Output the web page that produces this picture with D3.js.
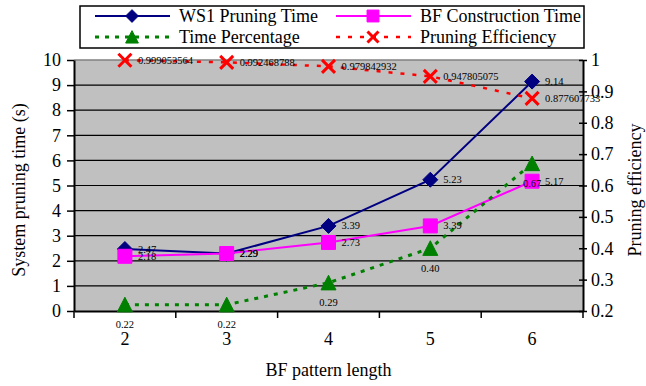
<!DOCTYPE html>
<html>
<head>
<meta charset="utf-8">
<script src="https://cdn.jsdelivr.net/npm/d3@7"></script>
<style>
  body { margin: 0; background: #fff; }
  text { font-family: "Liberation Serif", "Times New Roman", Times, serif; }
</style>
</head>
<body>
<svg id="chart_svg" width="646" height="386"></svg>
<script>
// data
var patternLength = ["2", "3", "4", "5", "6"];
var ws1Time = [2.47, 2.29, 3.39, 5.23, 9.14];
var bfTime = [2.18, 2.29, 2.73, 3.39, 5.17];
var timePct = [0.22, 0.22, 0.29, 0.40, 0.67];
var pruneEff = [0.999053564, 0.992468788, 0.979842932, 0.947805075, 0.877607733];
var leftTicks = [0, 1, 2, 3, 4, 5, 6, 7, 8, 9, 10];
var rightTicks = [0.2, 0.3, 0.4, 0.5, 0.6, 0.7, 0.8, 0.9, 1];

var plot = { left: 74, right: 583, top: 60, bottom: 311 };

var base = d3.select('#chart_svg');

var x = d3.scaleBand().domain(patternLength).range([plot.left, plot.right]);
var yL = d3.scaleLinear().domain([0, 10]).range([plot.bottom, plot.top]);
var yR = d3.scaleLinear().domain([0.2, 1]).range([plot.bottom, plot.top]);
var cx = function(d, i) { return x(patternLength[i]) + x.bandwidth() / 2; };

// plot background
base.append("rect")
    .attr("x", plot.left).attr("y", plot.top)
    .attr("width", plot.right - plot.left).attr("height", plot.bottom - plot.top)
    .attr("fill", "#c0c0c0");

// gridlines
base.append("g").selectAll("line")
    .data(leftTicks.slice(1, -1))
    .enter().append("line")
    .attr("x1", plot.left).attr("x2", plot.right)
    .attr("y1", function(d) { return yL(d); })
    .attr("y2", function(d) { return yL(d); })
    .attr("stroke", "#000").attr("stroke-width", 1.2);
base.append("line")
    .attr("x1", plot.left).attr("x2", plot.right)
    .attr("y1", plot.top).attr("y2", plot.top)
    .attr("stroke", "#808080").attr("stroke-width", 1.5);

// axes
var leftAxis = base.append("g")
    .attr("transform", "translate(" + plot.left + ",0)")
    .call(d3.axisLeft(yL).tickValues(leftTicks).tickSize(7).tickPadding(6).tickSizeOuter(0));
var rightAxis = base.append("g")
    .attr("transform", "translate(" + plot.right + ",0)")
    .call(d3.axisRight(yR).tickValues(rightTicks).tickSize(4).tickPadding(4).tickSizeOuter(0)
        .tickFormat(function(d) { return d === 1 ? "1" : d.toFixed(1); }));
rightAxis.selectAll(".tick line").attr("x1", -4);
var bottomAxis = base.append("g")
    .attr("transform", "translate(0," + plot.bottom + ")")
    .call(d3.axisBottom(x).tickSize(0).tickPadding(21).tickSizeOuter(0));
bottomAxis.selectAll("g.bound")
    .data(patternLength.concat(["end"]))
    .enter().append("line")
    .attr("x1", function(d) { return d === "end" ? plot.right : x(d); })
    .attr("x2", function(d) { return d === "end" ? plot.right : x(d); })
    .attr("y1", 0).attr("y2", 7)
    .attr("stroke", "#000").attr("stroke-width", 1.5);

[leftAxis, rightAxis, bottomAxis].forEach(function(a) {
    a.attr("font-family", null);
    a.select(".domain").attr("stroke", "#000").attr("stroke-width", 2);
    a.selectAll(".tick line").attr("stroke", "#000").attr("stroke-width", 1.5);
    a.selectAll("text").attr("font-size", "18px").attr("fill", "#000");
});

// axis titles
base.append("text")
    .text("System pruning time (s)")
    .attr("font-size", "18px")
    .attr("text-anchor", "middle")
    .attr("dominant-baseline", "central")
    .attr("transform", "translate(19,190) rotate(-90)");
base.append("text")
    .text("Pruning efficiency")
    .attr("font-size", "18px")
    .attr("text-anchor", "middle")
    .attr("dominant-baseline", "central")
    .attr("transform", "translate(635,190) rotate(-90)");
base.append("text")
    .text("BF pattern length")
    .attr("font-size", "18px")
    .attr("text-anchor", "middle")
    .attr("dominant-baseline", "central")
    .attr("x", (plot.left + plot.right) / 2)
    .attr("y", 370);

// marker shapes
function markerPath(shape, s) {
    if (shape === "diamond") return "M0," + (-s) + "L" + s + ",0L0," + s + "L" + (-s) + ",0Z";
    if (shape === "square") return "M" + (-s) + "," + (-s) + "h" + (2 * s) + "v" + (2 * s) + "h" + (-2 * s) + "Z";
    if (shape === "triangle") return "M0," + (-s) + "L" + s + "," + (s * 0.95) + "L" + (-s) + "," + (s * 0.95) + "Z";
    return "M" + (-s) + "," + (-s) + "L" + s + "," + s + "M" + s + "," + (-s) + "L" + (-s) + "," + s;
}

var series = [
    { name: "WS1 Pruning Time", values: ws1Time, y: yL, color: "#000080", width: 2, dash: null, shape: "diamond", size: 7.5 },
    { name: "BF Construction Time", values: bfTime, y: yL, color: "#ff00ff", width: 2, dash: null, shape: "square", size: 7 },
    { name: "Time Percentage", values: timePct, y: yR, color: "#008000", width: 3, dash: "4,6", shape: "triangle", size: 7.5 },
    { name: "Pruning Efficiency", values: pruneEff, y: yR, color: "#ff0000", width: 2.5, dash: "4,8", shape: "x", size: 6.5 }
];

var lineGroup = base.append("g").attr("id", "series-group");
series.forEach(function(s) {
    var line = d3.line()
        .x(function(d, i) { return cx(d, i); })
        .y(function(d) { return s.y(d); });
    lineGroup.append("path")
        .attr("d", line(s.values))
        .attr("fill", "none")
        .attr("stroke", s.color)
        .attr("stroke-width", s.width)
        .attr("stroke-dasharray", s.dash);
    lineGroup.selectAll(null)
        .data(s.values)
        .enter().append("path")
        .attr("d", markerPath(s.shape, s.size))
        .attr("transform", function(d, i) { return "translate(" + cx(d, i) + "," + s.y(d) + ")"; })
        .attr("fill", s.shape === "x" ? "none" : s.color)
        .attr("stroke", s.color)
        .attr("stroke-width", s.shape === "x" ? 3 : 1);
});

// data labels
var labelGroup = base.append("g").attr("id", "label-group")
    .attr("font-size", "10.5px");
function rightLabels(values, y, fmt) {
    labelGroup.selectAll(null)
        .data(values)
        .enter().append("text")
        .text(fmt)
        .attr("x", function(d, i) { return cx(d, i) + 13; })
        .attr("y", function(d) { return y(d); })
        .attr("dominant-baseline", "central");
}
rightLabels(ws1Time, yL, function(d) { return d.toFixed(2); });
rightLabels(bfTime, yL, function(d) { return d.toFixed(2); });
rightLabels(pruneEff, yR, function(d) { return String(d); });
labelGroup.selectAll(null)
    .data(timePct)
    .enter().append("text")
    .text(function(d) { return d.toFixed(2); })
    .attr("x", function(d, i) { return cx(d, i); })
    .attr("y", function(d) { return yR(d) + 20; })
    .attr("text-anchor", "middle")
    .attr("dominant-baseline", "central");

// legend
var legend = base.append("g").attr("id", "legend-group");
legend.append("rect")
    .attr("x", 80).attr("y", 6).attr("width", 504).attr("height", 42)
    .attr("fill", "#fff").attr("stroke", "#000").attr("stroke-width", 1.5);
var legendPos = [[95, 16], [336, 16], [95, 37], [336, 37]];
series.forEach(function(s, i) {
    var p = legendPos[i];
    var item = legend.append("g").attr("transform", "translate(" + p[0] + "," + p[1] + ")");
    item.append("line")
        .attr("x1", 0).attr("x2", 75)
        .attr("stroke", s.color)
        .attr("stroke-width", s.width)
        .attr("stroke-dasharray", s.dash);
    item.append("path")
        .attr("d", markerPath(s.shape, s.size * 0.85))
        .attr("transform", "translate(37,0)")
        .attr("fill", s.shape === "x" ? "none" : s.color)
        .attr("stroke", s.color)
        .attr("stroke-width", s.shape === "x" ? 3 : 1);
    item.append("text")
        .text(s.name)
        .attr("x", 84)
        .attr("font-size", "18px")
        .attr("dominant-baseline", "central");
});
</script>
</body>
</html>
